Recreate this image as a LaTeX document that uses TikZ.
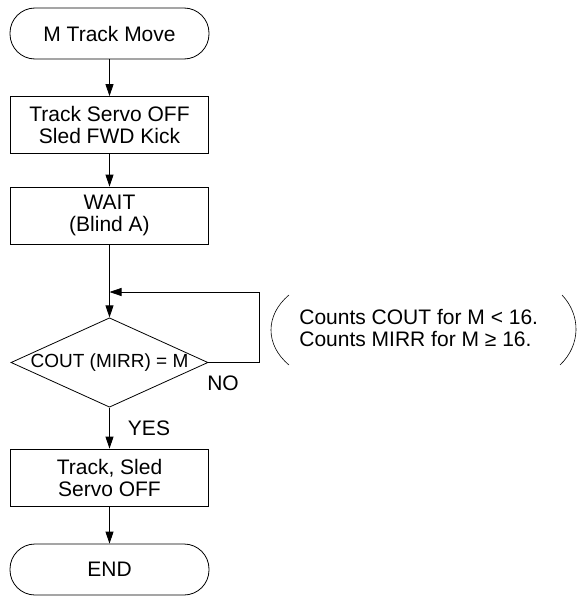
\documentclass[tikz,border=0pt]{standalone}
\usepackage{fontspec}
\setmainfont{Liberation Sans}
\usetikzlibrary{arrows.meta,shapes.geometric}
\begin{document}
\begin{tikzpicture}[x=1pt,y=-1pt,
  line width=0.8pt,
  every node/.style={font=\fontsize{21}{22}\selectfont, inner sep=0pt},
  term/.style={draw, rounded corners=25pt, minimum width=199pt, minimum height=51pt},
  proc/.style={draw, align=center, minimum width=198pt, minimum height=57pt},
  decision/.style={draw, diamond, aspect=2.2, minimum width=197pt, minimum height=89pt, font=\fontsize{19}{20}\selectfont},
  arr/.style={-{Triangle[length=12pt,width=8pt]}},
  paren/.style={line width=0.6pt}
]
\useasboundingbox (0,0) rectangle (576,597);
\node[term] (start) at (109.5,33.5) {M Track Move};
\node[proc] (b1) at (109.5,125) {Track Servo OFF\\Sled FWD Kick};
\node[proc] (b2) at (109.5,215.5) {WAIT\\(Blind A)};
\node[decision] (d) at (109.5,362.5) {COUT (MIRR) = M};
\node[proc] (b3) at (109.5,477.5) {Track, Sled\\Servo OFF};
\node[term] (end) at (109.5,569.5) {END};
\coordinate (j) at (109.5,292);
\node (no) at (223,383) {NO};
\node (yes) at (149,428) {YES};
\node[anchor=west, align=left] (note) at (299,328) {Counts COUT for M \char"3C{} 16.\\Counts MIRR for M \char"2265{} 16.};
\draw[arr] (start) -- (b1);
\draw[arr] (b1) -- (b2);
\draw[arr] (b2.south) -- (d.north);
\draw[arr] (d.east) -- ++(50.5,0) |- (j);
\draw[arr] (d.south) -- (b3.north);
\draw[arr] (b3) -- (end);
\draw[paren] (289,295) .. controls (265,315) and (265,345) .. (289,365);
\draw[paren] (562,295) .. controls (581,315) and (581,345) .. (560,365);
\end{tikzpicture}
\end{document}
